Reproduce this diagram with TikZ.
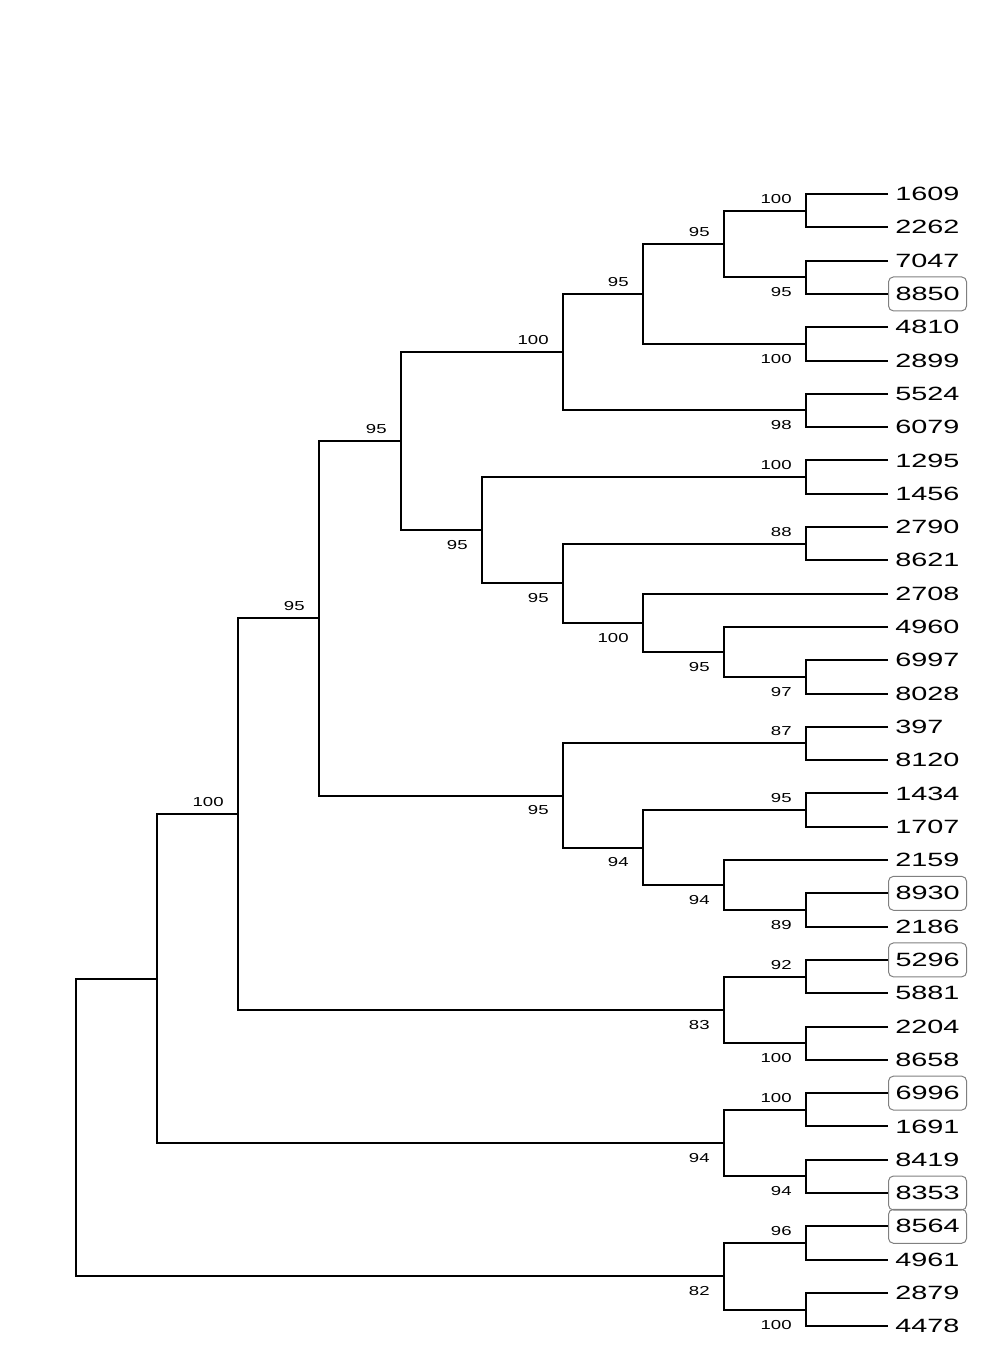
\documentclass[tikz,border=0pt]{standalone}
\usepackage{fontspec}
\newfontfamily\leaffont[FakeStretch=1.5]{Liberation Sans}
\newfontfamily\bootfont[FakeStretch=1.43]{Liberation Sans}

\begin{document}
\begin{tikzpicture}[x=0.5pt, y=-0.5pt,
	branch/.style={line width=1pt},
	leaf/.style={anchor=west, inner xsep=3.5pt, inner ysep=0pt, minimum height=17pt, font=\leaffont\fontsize{9.6}{11}\selectfont},
	marked/.style={leaf, draw=gray, rounded corners=2.5pt, line width=0.5pt},
	boot/.style={inner sep=0pt, xshift=-7pt, font=\bootfont\fontsize{6.5}{7}\selectfont},
	bootup/.style={boot, anchor=south east, yshift=3.5pt},
	bootdown/.style={boot, anchor=north east, yshift=-5pt}]
			\useasboundingbox (0, 0) rectangle (988, 1372);
			\node[leaf] (l1609) at (888, 194.0) {1609};
			\node[leaf] (l2262) at (888, 227.3) {2262};
			\node[leaf] (l7047) at (888, 260.6) {7047};
			\node[marked] (l8850) at (888, 293.9) {8850};
			\node[leaf] (l4810) at (888, 327.2) {4810};
			\node[leaf] (l2899) at (888, 360.5) {2899};
			\node[leaf] (l5524) at (888, 393.8) {5524};
			\node[leaf] (l6079) at (888, 427.1) {6079};
			\node[leaf] (l1295) at (888, 460.4) {1295};
			\node[leaf] (l1456) at (888, 493.7) {1456};
			\node[leaf] (l2790) at (888, 527.0) {2790};
			\node[leaf] (l8621) at (888, 560.3) {8621};
			\node[leaf] (l2708) at (888, 593.6) {2708};
			\node[leaf] (l4960) at (888, 626.9) {4960};
			\node[leaf] (l6997) at (888, 660.2) {6997};
			\node[leaf] (l8028) at (888, 693.5) {8028};
			\node[leaf] (l397) at (888, 726.8) {397};
			\node[leaf] (l8120) at (888, 760.1) {8120};
			\node[leaf] (l1434) at (888, 793.4) {1434};
			\node[leaf] (l1707) at (888, 826.7) {1707};
			\node[leaf] (l2159) at (888, 860.0) {2159};
			\node[marked] (l8930) at (888, 893.3) {8930};
			\node[leaf] (l2186) at (888, 926.6) {2186};
			\node[marked] (l5296) at (888, 959.9) {5296};
			\node[leaf] (l5881) at (888, 993.2) {5881};
			\node[leaf] (l2204) at (888, 1026.5) {2204};
			\node[leaf] (l8658) at (888, 1059.8) {8658};
			\node[marked] (l6996) at (888, 1093.1) {6996};
			\node[leaf] (l1691) at (888, 1126.4) {1691};
			\node[leaf] (l8419) at (888, 1159.7) {8419};
			\node[marked] (l8353) at (888, 1193.0) {8353};
			\node[marked] (l8564) at (888, 1226.3) {8564};
			\node[leaf] (l4961) at (888, 1259.6) {4961};
			\node[leaf] (l2879) at (888, 1292.9) {2879};
			\node[leaf] (l4478) at (888, 1326.2) {4478};

			\coordinate (n1609) at (806, 210.65);
			\coordinate (n7047) at (806, 277.25);
			\coordinate (n4810) at (806, 343.85);
			\coordinate (n5524) at (806, 410.45);
			\coordinate (n1295) at (806, 477.05);
			\coordinate (n2790) at (806, 543.65);
			\coordinate (n6997) at (806, 676.85);
			\coordinate (n397) at (806, 743.45);
			\coordinate (n1434) at (806, 810.05);
			\coordinate (n8930) at (806, 909.95);
			\coordinate (n5296) at (806, 976.55);
			\coordinate (n2204) at (806, 1043.15);
			\coordinate (n6996) at (806, 1109.75);
			\coordinate (n8419) at (806, 1176.35);
			\coordinate (n8564) at (806, 1242.95);
			\coordinate (n2879) at (806, 1309.55);
			\coordinate (n1609b) at (724, 243.95);
			\coordinate (n4960) at (724, 651.9);
			\coordinate (n2159) at (724, 884.95);
			\coordinate (n5296b) at (724, 1009.85);
			\coordinate (n6996b) at (724, 1143.05);
			\coordinate (n8564b) at (724, 1276.25);
			\coordinate (n1609c) at (643, 293.9);
			\coordinate (n2708) at (643, 622.75);
			\coordinate (n1434b) at (643, 847.5);
			\coordinate (n1609d) at (563, 352.2);
			\coordinate (n2790b) at (563, 583.2);
			\coordinate (n397b) at (563, 795.5);
			\coordinate (n1295b) at (482, 530.1);
			\coordinate (n1609e) at (401, 441.15);
			\coordinate (n1609f) at (319, 618.3);
			\coordinate (n1609g) at (238, 814.1);
			\coordinate (n1609h) at (157, 978.6);
			\coordinate (root) at (76, 1127.4);

			\draw[branch] (l1609.west) -| (n1609) |- (l2262.west);
			\draw[branch] (l7047.west) -| (n7047) |- (l8850.west);
			\draw[branch] (l4810.west) -| (n4810) |- (l2899.west);
			\draw[branch] (l5524.west) -| (n5524) |- (l6079.west);
			\draw[branch] (l1295.west) -| (n1295) |- (l1456.west);
			\draw[branch] (l2790.west) -| (n2790) |- (l8621.west);
			\draw[branch] (l6997.west) -| (n6997) |- (l8028.west);
			\draw[branch] (l397.west) -| (n397) |- (l8120.west);
			\draw[branch] (l1434.west) -| (n1434) |- (l1707.west);
			\draw[branch] (l8930.west) -| (n8930) |- (l2186.west);
			\draw[branch] (l5296.west) -| (n5296) |- (l5881.west);
			\draw[branch] (l2204.west) -| (n2204) |- (l8658.west);
			\draw[branch] (l6996.west) -| (n6996) |- (l1691.west);
			\draw[branch] (l8419.west) -| (n8419) |- (l8353.west);
			\draw[branch] (l8564.west) -| (n8564) |- (l4961.west);
			\draw[branch] (l2879.west) -| (n2879) |- (l4478.west);
			\draw[branch] (n1609) -| (n1609b) |- (n7047);
			\draw[branch] (l4960.west) -| (n4960) |- (n6997);
			\draw[branch] (l2159.west) -| (n2159) |- (n8930);
			\draw[branch] (n5296) -| (n5296b) |- (n2204);
			\draw[branch] (n6996) -| (n6996b) |- (n8419);
			\draw[branch] (n8564) -| (n8564b) |- (n2879);
			\draw[branch] (n1609b) -| (n1609c) |- (n4810);
			\draw[branch] (l2708.west) -| (n2708) |- (n4960);
			\draw[branch] (n1434) -| (n1434b) |- (n2159);
			\draw[branch] (n1609c) -| (n1609d) |- (n5524);
			\draw[branch] (n2790) -| (n2790b) |- (n2708);
			\draw[branch] (n397) -| (n397b) |- (n1434b);
			\draw[branch] (n1295) -| (n1295b) |- (n2790b);
			\draw[branch] (n1609d) -| (n1609e) |- (n1295b);
			\draw[branch] (n1609e) -| (n1609f) |- (n397b);
			\draw[branch] (n1609f) -| (n1609g) |- (n5296b);
			\draw[branch] (n1609g) -| (n1609h) |- (n6996b);
			\draw[branch] (n1609h) -| (root) |- (n8564b);

			\node[bootup] (b1609) at (n1609) {100};
			\node[bootdown] (b7047) at (n7047) {95};
			\node[bootdown] (b4810) at (n4810) {100};
			\node[bootdown] (b5524) at (n5524) {98};
			\node[bootup] (b1295) at (n1295) {100};
			\node[bootup] (b2790) at (n2790) {88};
			\node[bootdown] (b6997) at (n6997) {97};
			\node[bootup] (b397) at (n397) {87};
			\node[bootup] (b1434) at (n1434) {95};
			\node[bootdown] (b8930) at (n8930) {89};
			\node[bootup] (b5296) at (n5296) {92};
			\node[bootdown] (b2204) at (n2204) {100};
			\node[bootup] (b6996) at (n6996) {100};
			\node[bootdown] (b8419) at (n8419) {94};
			\node[bootup] (b8564) at (n8564) {96};
			\node[bootdown] (b2879) at (n2879) {100};
			\node[bootup] (b1609b) at (n1609b) {95};
			\node[bootdown] (b4960) at (n4960) {95};
			\node[bootdown] (b2159) at (n2159) {94};
			\node[bootdown] (b5296b) at (n5296b) {83};
			\node[bootdown] (b6996b) at (n6996b) {94};
			\node[bootdown] (b8564b) at (n8564b) {82};
			\node[bootup] (b1609c) at (n1609c) {95};
			\node[bootdown] (b2708) at (n2708) {100};
			\node[bootdown] (b1434b) at (n1434b) {94};
			\node[bootup] (b1609d) at (n1609d) {100};
			\node[bootdown] (b2790b) at (n2790b) {95};
			\node[bootdown] (b397b) at (n397b) {95};
			\node[bootdown] (b1295b) at (n1295b) {95};
			\node[bootup] (b1609e) at (n1609e) {95};
			\node[bootup] (b1609f) at (n1609f) {95};
			\node[bootup] (b1609g) at (n1609g) {100};
		\end{tikzpicture}
\end{document}
